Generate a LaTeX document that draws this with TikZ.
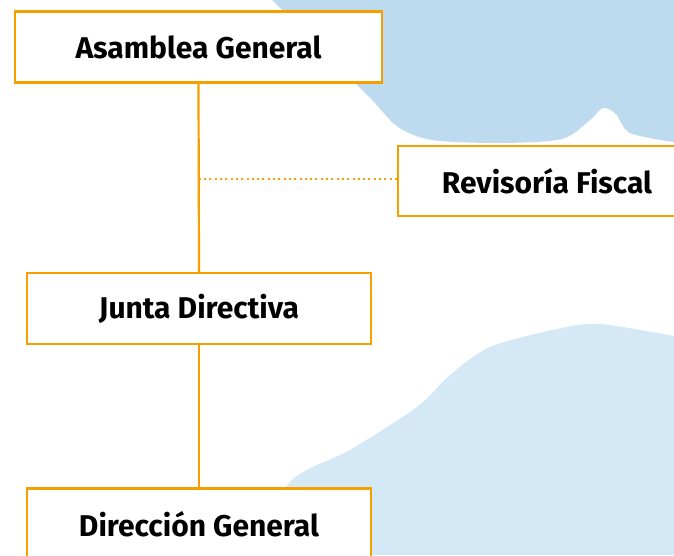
\documentclass[tikz,border=0pt]{standalone}
\usepackage{fontspec}
\setmainfont{Fira Sans}
\usetikzlibrary{positioning}
\definecolor{naranja}{HTML}{F5A000}
\definecolor{nubeA}{HTML}{BDDAEF}
\definecolor{nubeB}{HTML}{D4E8F6}

\begin{document}
\begin{tikzpicture}[x=1pt,y=-1pt]
        \tikzset{caja/.style={draw=naranja, line width=2.2pt, fill=white, rectangle, minimum height=71pt, font=\fontsize{30}{34}\selectfont\bfseries}}
        \useasboundingbox (0,0) rectangle (674,555);
        % nubes de fondo
        \fill[nubeA] plot[smooth] coordinates {(272,0) (330,58) (372,100) (398,127) (432,140) (500,143) (562,139) (590,120) (603,108) (616,114) (630,133) (674,142)} -- (674,0) -- cycle;
        \fill[nubeB] plot[smooth] coordinates {(255,555) (290,482) (350,450) (417,407) (450,375) (490,347) (557,329) (600,324) (674,336)} -- (674,555) -- cycle;
        \node[caja, minimum width=367pt] (asamblea) at (198.5,47) {Asamblea General};
        \node[caja, minimum width=298pt, minimum height=70pt] (revisoria) at (547,181) {Revisoría Fiscal};
        \node[caja, minimum width=344pt] (junta) at (199,308.5) {Junta Directiva};
        \node[caja, minimum width=344pt] (direccion) at (199,524) {Dirección General};
        \draw[naranja, line width=2.2pt] (asamblea.south) -- (junta.north);
        \draw[naranja, line width=2.2pt] (junta.south) -- (direccion.north);
        \draw[naranja, line width=2pt, dash pattern=on 2pt off 3.3pt] ([yshift=2pt]revisoria.west) -- ([yshift=2pt]revisoria.west -| asamblea.south);
\end{tikzpicture}
\end{document}
